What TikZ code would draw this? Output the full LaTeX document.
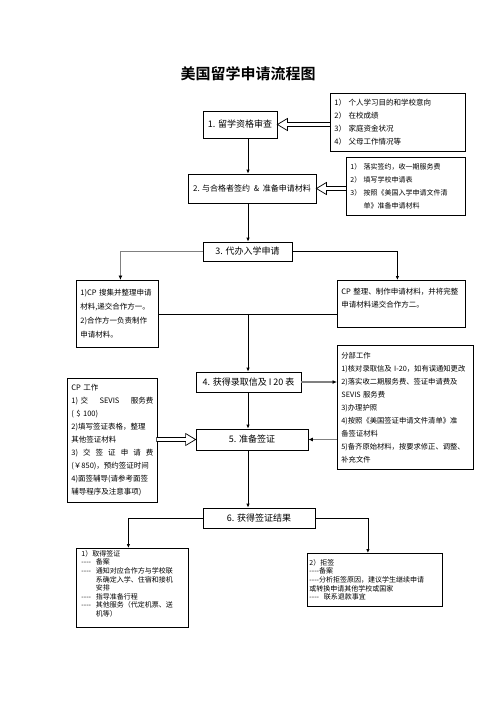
\documentclass[tikz,border=0pt]{standalone}
\usepackage{fontspec}
\newfontfamily\cjk[BoldFont={Noto Sans CJK SC Bold}]{Noto Sans CJK SC}
\usetikzlibrary{arrows.meta}
\newcommand{\strich}{-{}-{}-{}-}

\begin{document}
\begin{tikzpicture}[x=1pt, y=-1pt]
  \useasboundingbox (0, 0) rectangle (496, 702);

  % Stile.
  \tikzstyle{schritt}=[draw, line width=0.8pt, inner sep=2pt, font=\cjk\fontsize{9}{11}\selectfont]
  \tikzstyle{notiz}=[draw, line width=0.8pt, anchor=north west, align=left, inner xsep=4pt, inner ysep=2pt, font=\cjk\fontsize{7.5}{13}\selectfont]
  \tikzstyle{klein}=[font=\cjk\fontsize{7}{8.6}\selectfont]
  \tikzstyle{pfeil}=[line width=0.8pt, -{Latex[length=4pt, width=3.5pt]}]
  \tikzstyle{grau}=[draw=gray, line width=1.6pt, -{Latex[length=4.5pt, width=4pt, black]}]
  \tikzstyle{hohl}=[draw, line width=0.7pt, fill=white]

  \coordinate (spine) at (248, 0);

  % Titel.
  \node[font=\cjk\bfseries\fontsize{15}{18}\selectfont] (titel) at (248, 74) {美国留学申请流程图};

  % Hauptschritte.
  \node[schritt, minimum width=74, minimum height=27] (eins) at (240, 124.5) {1. 留学资格审查};
  \node[schritt, minimum width=128, minimum height=29, font=\cjk\fontsize{8}{10}\selectfont] (zwei) at (252, 188.5) {2. 与合格者签约 \ \& \ 准备申请材料};
  \node[schritt, minimum width=89, minimum height=19] (drei) at (247.5, 251.5) {3. 代办入学申请};
  \node[schritt, minimum width=105, minimum height=20] (vier) at (248.5, 382) {4. 获得录取信及 I 20 表};
  \node[schritt, minimum width=112, minimum height=21] (fuenf) at (252, 439.5) {5. 准备签证};
  \node[schritt, minimum width=112, minimum height=20] (sechs) at (259, 518) {6. 获得签证结果};

  % Notizen.
  \node[notiz, text width=127, minimum height=58] (rechts1) at (330, 93) {
    1）~个人学习目的和学校意向\\
    2）~在校成绩\\
    3）~家庭资金状况\\
    4）~父母工作情况等};
  \node[notiz, text width=111, minimum height=58, font=\cjk\fontsize{7}{13}\selectfont] (rechts2) at (346, 157) {
    1）~落实签约，收一期服务费\\
    2）~填写学校申请表\\
    3）~按照《美国入学申请文件清\\
    \phantom{3）~}单》准备申请材料};
  \node[notiz, text width=74, minimum height=67, font=\cjk\fontsize{7.5}{14}\selectfont] (links3) at (76, 280) {
    1)CP~搜集并整理申请\\
    材料,递交合作方一。\\
    2)合作方一负责制作\\
    申请材料。};
  \node[notiz, text width=120, minimum height=47] (rechts3) at (337, 280) {
    CP~整理、制作申请材料，并将完整\\
    申请材料递交合作方二。\\
    ~};
  \node[notiz, text width=128, minimum height=124, font=\cjk\fontsize{7.3}{13}\selectfont] (rechts4) at (337, 345) {
    分部工作\\
    1)核对录取信及~I-20，如有误通知更改\\
    2)落实收二期服务费、签证申请费及\\
    SEVIS~服务费\\
    3)办理护照\\
    4)按照《美国签证申请文件清单》准\\
    备签证材料\\
    5)备齐原始材料，按要求修正、调整、\\
    补充文件};
  \node[notiz, text width=82, minimum height=124] (links5) at (67, 378) {
    CP~工作\\
    1)~交\hfill SEVIS\hfill 服务费\\
    (~\$~100)\\
    2)填写签证表格，整理\\
    其他签证材料\\
    3)\hfill 交\hfill 签\hfill 证\hfill 申\hfill 请\hfill 费\\
    (￥850)，预约签证时间\\
    4)面签辅导(请参考面签\\
    辅导程序及注意事项)};
  \node[notiz, klein, inner xsep=5pt, text width=102, minimum height=78] (links6) at (76, 548) {
    1）取得签证\\
    \strich~~备案\\
    \strich~~通知对应合作方与学校联\\
    \phantom{\strich~~}系确定入学、住宿和接机\\
    \phantom{\strich~~}安排\\
    \strich~~指导准备行程\\
    \strich~~其他服务（代定机票、送\\
    \phantom{\strich~~}机等）\\
    ~};
  \node[notiz, klein, inner xsep=2pt, text width=131, minimum height=53] (rechts6) at (307, 553) {
    2）拒签\\
    \strich 备案\\
    \strich 分析拒签原因，建议学生继续申请\\
    或转换申请其他学校或国家\\
    \strich~~联系退款事宜};

  % Verbindungen.
  \draw[pfeil] (eins.south -| spine) -- (zwei.north -| spine);
  \draw[pfeil] (zwei.south -| spine) -- (drei.north -| spine);
  \draw[grau] (drei.west) -| ([xshift=3]links3.north);
  \draw[pfeil] (drei.east) -| ([xshift=-4]rechts3.north);
  \draw[line width=0.8pt] (links3.east) -- (rechts3.west |- links3.east);
  \draw[pfeil] (spine |- links3.east) -- (vier.north -| spine);
  \draw[grau] (vier.east) -- (rechts4.west |- vier.east);
  \draw[grau] (rechts4.west |- fuenf.east) -- (fuenf.east);
  \draw[pfeil] (vier.south -| spine) -- (fuenf.north -| spine);
  \draw[pfeil] (fuenf.south -| spine) -- (sechs.north -| spine);
  \draw[pfeil] (sechs.west) -| ([xshift=-4]links6.north);
  \draw[pfeil] (sechs.east) -| ([xshift=-7]rechts6.north);

  % Hohlpfeile.
  \draw[hohl] (eins.east) -- ++(10, -6) -- ++(0, 4) -- ++(43, 0) -- ++(0, 4) -- ++(-43, 0) -- ++(0, 4) -- cycle;
  \draw[hohl] (zwei.east) -- ++(10, -6) -- ++(0, 4) -- ++(20, 0) -- ++(0, 4) -- ++(-20, 0) -- ++(0, 4) -- cycle;
  \draw[hohl] (fuenf.west) -- ++(-10, -6) -- ++(0, 4) -- ++(-29, 0) -- ++(0, 4) -- ++(29, 0) -- ++(0, 4) -- cycle;
\end{tikzpicture}
\end{document}
